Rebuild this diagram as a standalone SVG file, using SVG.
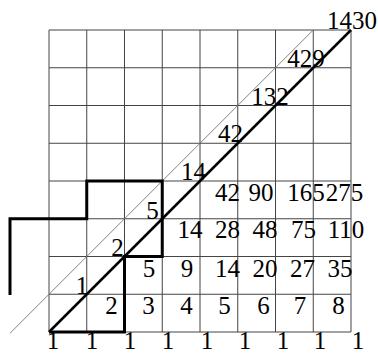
<svg xmlns="http://www.w3.org/2000/svg" width="378" height="353" viewBox="0 0 378 353">
<style>
.grid{stroke:#444;stroke-width:1;fill:none}
.thin{stroke:#777;stroke-width:0.9;fill:none}
.thick{stroke:#000;stroke-width:2.5;fill:none}
.stair{stroke:#000;stroke-width:3;fill:none;stroke-linejoin:miter}
text{font-family:"Liberation Serif","Times New Roman",serif;font-size:25px;fill:#000;text-anchor:middle}
</style>
<rect width="378" height="353" fill="#fff"/>
<g id="grid" class="grid">
<path d="M49,30V332M86.75,30V332M124.5,30V332M162.25,30V332M200,30V332M237.75,30V332M275.5,30V332M313.25,30V332M351,30V332"/>
<path d="M49,30H351M49,67.75H351M49,105.5H351M49,143.25H351M49,181H351M49,218.75H351M49,256.5H351M49,294.25H351M49,332H351"/>
</g>
<g id="connectors">
<line class="thin" x1="10" y1="333.25" x2="313.25" y2="30"/>
<line class="thick" x1="49" y1="332" x2="351" y2="30"/>
<path id="path" class="stair" d="M10,295V218.75H86.75V181H162.25V256.5H124.5V332H49"/>
</g>
<g font-family="Liberation Serif, Times New Roman, serif" font-size="25">
<g id="bottom-ones">
<text x="53" y="349">1</text><text x="92" y="349">1</text><text x="130" y="349">1</text><text x="168" y="349">1</text><text x="207" y="349">1</text><text x="245" y="349">1</text><text x="283" y="349">1</text><text x="320" y="349">1</text><text x="358" y="349">1</text>
</g>
<g id="row-a">
<text x="111.5" y="313.5">2</text><text x="148.5" y="313.5">3</text><text x="186.5" y="313.5">4</text><text x="224.5" y="313.5">5</text><text x="263.5" y="313.5">6</text><text x="300" y="313.5">7</text><text x="338.5" y="313.5">8</text>
</g>
<g id="row-b">
<text x="149" y="276.5">5</text><text x="187" y="276.5">9</text><text x="227.5" y="276.5">14</text><text x="265" y="276.5">20</text><text x="302.5" y="276.5">27</text><text x="340" y="276.5">35</text>
</g>
<g id="row-c">
<text x="190" y="238">14</text><text x="227.5" y="238">28</text><text x="265" y="238">48</text><text x="303.5" y="238">75</text><text x="346" y="238">110</text>
</g>
<g id="row-d">
<text x="227.5" y="200.5">42</text><text x="261" y="200.5">90</text><text x="306" y="200.5">165</text><text x="344.5" y="200.5">275</text>
</g>
<g id="diagonal-labels">
<text x="82" y="294">1</text><text x="117.5" y="256">2</text><text x="152.5" y="219">5</text><text x="193.5" y="180">14</text><text x="230.5" y="142">42</text><text x="270" y="105">132</text><text x="306" y="67">429</text><text x="352" y="29">1430</text>
</g>
</g>
</svg>
